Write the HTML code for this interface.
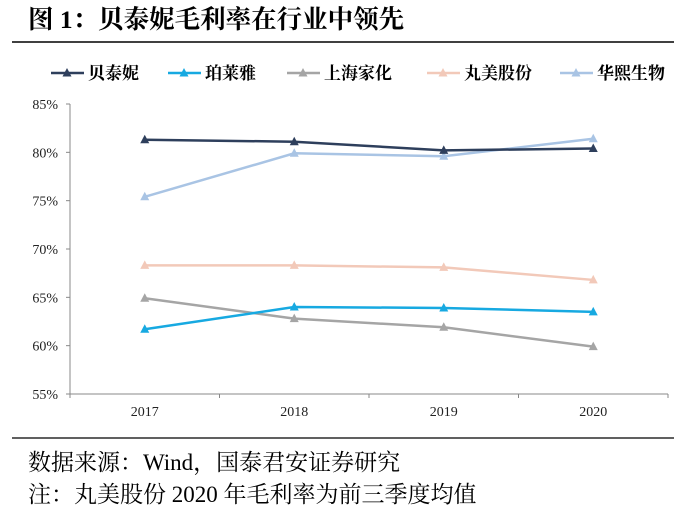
<!DOCTYPE html>
<html><head><meta charset="utf-8"><style>
body{margin:0;background:#fff;width:685px;height:518px;overflow:hidden;font-family:"Liberation Serif","Noto Serif CJK SC",serif;}
</style></head><body>
<svg width="685" height="518" xmlns="http://www.w3.org/2000/svg">
<text x="28" y="28" font-size="25.5" font-weight="bold" font-family="Liberation Serif,Noto Serif CJK SC,serif" fill="#000">图 1：贝泰妮毛利率在行业中领先</text>
<line x1="12" y1="42" x2="674" y2="42" stroke="#000" stroke-width="1.5"/>
<g id="legend"></g>
<g id="axes"></g>
<g id="series"></g>
<line x1="12" y1="438" x2="674" y2="438" stroke="#000" stroke-width="1.2"/>
<text x="28" y="470" font-size="23" fill="#000">数据来源：Wind，国泰君安证券研究</text>
<text x="28" y="502" font-size="23" fill="#000">注：丸美股份 2020 年毛利率为前三季度均值</text>
</svg>
<script>
const categories=["2017","2018","2019","2020"];
const seriesNames=["贝泰妮","珀莱雅","上海家化","丸美股份","华熙生物"];
const seriesColors=["#2E3F5C","#17A9E1","#A5A5A5","#F2C9B9","#A9C4E4"];
const sBTN=[81.3,81.1,80.2,80.4];
const sPLY=[61.7,64.0,63.9,63.5];
const sSHJH=[64.9,62.8,61.9,59.9];
const sWM=[68.3,68.3,68.1,66.8];
const sHX=[75.4,79.9,79.6,81.4];
const yTicks=[55,60,65,70,75,80,85];
const NS="http://www.w3.org/2000/svg";
const X0=70,X1=668,Y0=394,Y1=104,YMIN=55,YMAX=85;
const bw=(X1-X0)/categories.length;
function xs(i){return X0+bw*(i+0.5);}
function ys(v){return Y0-(v-YMIN)/(YMAX-YMIN)*(Y0-Y1);}
function mk(t,a,p){const e=document.createElementNS(NS,t);for(const k in a)e.setAttribute(k,a[k]);p.appendChild(e);return e;}
const axes=document.getElementById('axes');
let l=mk('line',{x1:X0,y1:Y1,x2:X0,y2:Y0,stroke:'#888'},axes);


l=mk('line',{x1:X0,y1:Y0,x2:X1,y2:Y0,stroke:'#888'},axes);


yTicks.forEach(v=>{
 const y=ys(v);
 mk('line',{x1:X0-4,y1:y,x2:X0,y2:y,stroke:'#888'},axes);
 const t=mk('text',{x:X0-12,y:y+5,'text-anchor':'end','font-size':14,fill:'#222'},axes);
 t.textContent=v+'%';
 
 
});
for(let i=0;i<=categories.length;i++){mk('line',{x1:X0+bw*i,y1:Y0,x2:X0+bw*i,y2:Y0+4,stroke:'#888'},axes);}
categories.forEach((c,i)=>{
 const t=mk('text',{x:xs(i),y:Y0+22,'text-anchor':'middle','font-size':14,fill:'#222'},axes);
 t.textContent=c;
 
 
});
function tri(x,y,c,p){return mk('polygon',{points:`${x},${y-5} ${x-4.5},${y+3.5} ${x+4.5},${y+3.5}`,fill:c},p);}
const data=[sBTN,sPLY,sSHJH,sWM,sHX];
const sg=document.getElementById('series');
const order=[3,2,1,4,0];
order.forEach(k=>{
 const vals=data[k],c=seriesColors[k];
 const g=mk('g',{},sg);
 
 
 const pl=mk('polyline',{points:vals.map((v,i)=>xs(i)+','+ys(v)).join(' '),fill:'none',stroke:c,'stroke-width':2.5},g);
 
 
 vals.forEach((v,i)=>{const p=tri(xs(i),ys(v),c,g);
  
  });
});
const lg=document.getElementById('legend');
const lx=[51,168,287,427,560];
seriesNames.forEach((n,k)=>{
 const g=mk('g',{},lg);
 
 
 mk('line',{x1:lx[k],y1:73,x2:lx[k]+33,y2:73,stroke:seriesColors[k],'stroke-width':2.5},g);
 tri(lx[k]+16,73,seriesColors[k],g);
 const t=mk('text',{x:lx[k]+37,y:79,'font-size':17,'font-weight':'bold',fill:'#000'},g);
 t.textContent=n;
});
</script>
</body></html>
